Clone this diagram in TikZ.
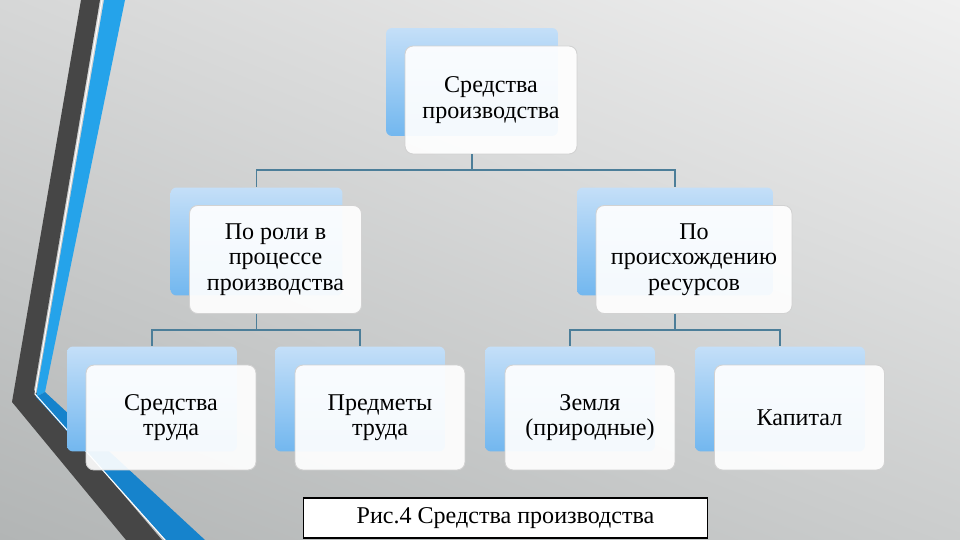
\documentclass[tikz,border=0pt]{standalone}
\usepackage{fontspec}
\setmainfont{Liberation Serif}
\newfontfamily\boxfont{Liberation Serif}
\usetikzlibrary{shadings}

\definecolor{bgUL}{HTML}{D6D7D7}
\definecolor{bgUR}{HTML}{F0F0F0}
\definecolor{bgLL}{HTML}{B2B5B5}
\definecolor{bgLR}{HTML}{CBCDCD}
\definecolor{stripeDark}{HTML}{464646}
\definecolor{stripeBlue}{HTML}{25A3EA}
\definecolor{stripeDeep}{HTML}{1683CC}
\definecolor{backTop}{HTML}{C4DFF8}
\definecolor{backBot}{HTML}{72B7EF}
\definecolor{connCol}{HTML}{4C7E99}

\begin{document}
\begin{tikzpicture}[x=0.02cm, y=-0.02cm,
    back/.style={rectangle, rounded corners=0.12cm, top color=backTop, bottom color=backBot,
      minimum width=3.44cm, minimum height=2.16cm, inner sep=0pt},
    front/.style={rectangle, rounded corners=0.16cm, fill=white, fill opacity=0.92, text opacity=1,
      draw=gray!35, line width=0.5pt, align=center, minimum width=3.44cm, minimum height=2.16cm,
      font=\boxfont\fontsize{13.7pt}{14.4pt}\selectfont},
    conn/.style={draw=connCol, line width=0.6pt}]

    % background
    \shade[upper left=bgUL, upper right=bgUR, lower left=bgLL, lower right=bgLR]
        (0,0) rectangle (960,540);
    \useasboundingbox (0,0) rectangle (960,540);

    % stripes on the left
    \fill[stripeDark] (81,0) -- (100,0) -- (34,390) -- (162,540) -- (126,540) -- (12,402) -- cycle;
    \fill[stripeBlue] (104,0) -- (125,0) -- (45,392) -- (36,397) -- cycle;
    \fill[stripeDeep] (36,397) -- (45,392) -- (205,540) -- (166,540) -- cycle;
    \draw[white, line width=0.6pt] (102,0) -- (35,394) -- (165,540);

    % top
    \node[back] (topb) at (472,82) {};
    \node[front] (top) at (491,100) {Средства\\производства};

    % second level
    \node[back] (roleb) at (256.5,241.5) {};
    \node[front] (role) at (275.5,259.5) {По роли в\\процессе\\производства};

    \node[back, minimum width=3.92cm] (origb) at (675,241.5) {};
    \node[front, minimum width=3.92cm] (orig) at (694,259.5) {По\\происхождению\\ресурсов};

    % third level
    \node[back, minimum width=3.4cm, minimum height=2.1cm] (toolb) at (152,399) {};
    \node[front, minimum width=3.4cm, minimum height=2.1cm] (tool) at (171,417.5) {Средства\\труда};

    \node[back, minimum width=3.4cm, minimum height=2.1cm] (objb) at (360,399) {};
    \node[front, minimum width=3.4cm, minimum height=2.1cm] (obj) at (380,417.5) {Предметы\\труда};

    \node[back, minimum width=3.4cm, minimum height=2.1cm] (landb) at (570,399) {};
    \node[front, minimum width=3.4cm, minimum height=2.1cm] (land) at (590,417.5) {Земля\\(природные)};

    \node[back, minimum width=3.4cm, minimum height=2.1cm] (capb) at (780,399) {};
    \node[front, minimum width=3.4cm, minimum height=2.1cm] (cap) at (799.5,417.5) {Капитал};

    % connectors
    \draw[conn] (topb |- top.south) -- (472,170) -| (roleb.north);
    \draw[conn] (topb |- top.south) -- (472,170) -| (origb.north);
    \draw[conn] (roleb |- role.south) -- (256.5,330) -| (toolb.north);
    \draw[conn] (roleb |- role.south) -- (256.5,330) -| (objb.north);
    \draw[conn] (origb |- orig.south) -- (675,330) -| (landb.north);
    \draw[conn] (origb |- orig.south) -- (675,330) -| (capb.north);

    % caption
    \node[draw=black, fill=white, line width=0.7pt, minimum width=8.08cm, minimum height=0.8cm,
        font=\boxfont\fontsize{13.7pt}{14.4pt}\selectfont] (caption) at (505.5,518) {Рис.4 Средства производства};

\end{tikzpicture}
\end{document}
